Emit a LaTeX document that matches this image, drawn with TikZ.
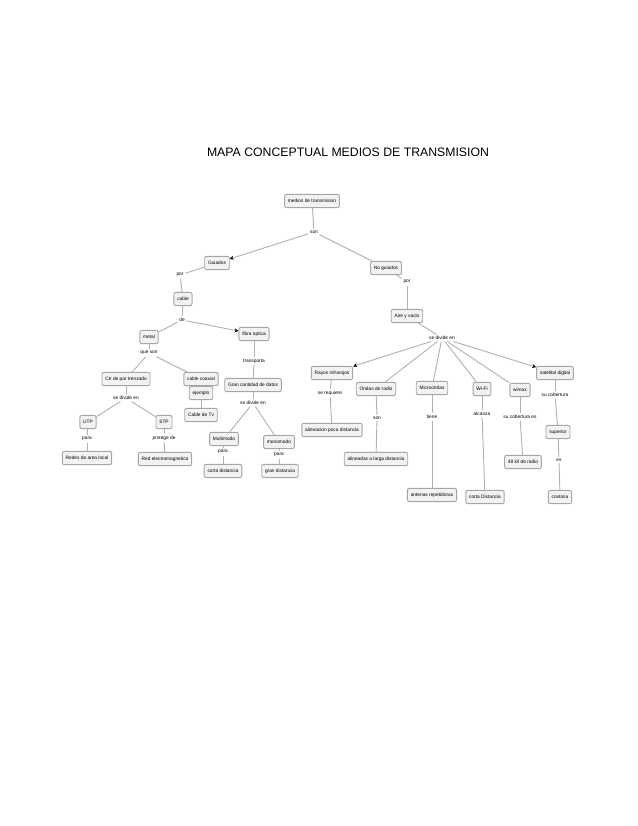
\documentclass[tikz,border=0pt]{standalone}
\usepackage{fontspec}
\setmainfont{Liberation Sans}
\usetikzlibrary{arrows.meta}

\begin{document}
\begin{tikzpicture}[x=0.75pt,y=-0.75pt,
    concept/.style={draw=gray!70, fill=blue!3!gray!10, rounded corners=1.5pt, line width=0.7pt,
      font=\fontsize{3.6}{4}\selectfont, inner xsep=2.5pt, minimum height=10pt},
    link/.style={fill=white, font=\fontsize{3.6}{4}\selectfont, inner sep=1pt},
    every path/.style={draw=gray!60, line width=0.7pt},
    >={Stealth[length=3pt,width=3pt,color=black]}]
    \path[use as bounding box, draw=none] (0,0) rectangle (638,826);
    \node[font=\fontsize{9.2}{11}\selectfont] (title) at (348,152)
    {MAPA CONCEPTUAL MEDIOS DE TRANSMISION};
    % top
    \node[concept] (medios) at (312,201) {medios de transmision};
    \node[link] (son) at (314,232) {son};
    \node[concept] (guiados) at (217,263) {Guiados};
    \node[concept] (noguiados) at (386,268) {No guiados};
    \draw (medios) -- (son); \draw[->] (son) -- (guiados); \draw (son) -- (noguiados);
    % guiados
    \node[link] (porL) at (180,275) {por};
    \node[concept] (cable) at (183,299) {cable};
    \draw (guiados) -- (porL); \draw (porL) -- (cable);
    \node[link] (de) at (182,320) {de};
    \node[concept] (metal) at (149,337) {metal};
    \node[concept] (fibra) at (254,334) {fibra optica};
    \draw (cable) -- (de); \draw (de) -- (metal); \draw[->] (de) -- (fibra);
    \node[link] (queson) at (149,353) {que son};
    \node[concept] (par) at (126,379) {Ctr de par trenzado};
    \node[concept] (coaxial) at (201,379) {cable coaxial};
    \draw (metal) -- (queson); \draw (queson) -- (par); \draw (queson) -- (coaxial);
    \node[concept] (ejemplo) at (201,393) {ejemplo};
    \node[concept] (tv) at (201,415) {Cable de Tv};
    \draw (coaxial) -- (ejemplo); \draw (ejemplo) -- (tv);
    \node[link] (divpar) at (126,398) {se divide en};
    \node[concept] (utp) at (88,422) {UTP};
    \node[concept] (stp) at (164,422) {STP};
    \draw (par) -- (divpar); \draw (divpar) -- (utp); \draw (divpar) -- (stp);
    \node[link] (parautp) at (87,439) {para};
    \node[concept] (redes) at (87,458) {Redes de area local};
    \draw (utp) -- (parautp); \draw (parautp) -- (redes);
    \node[link] (protege) at (164,438) {protege de};
    \node[concept] (red) at (165,459) {Red electromagnetica};
    \draw (stp) -- (protege); \draw (protege) -- (red);
    % fibra
    \node[link] (transporta) at (254,361) {transporta};
    \node[concept] (gran) at (253,385) {Gran cantidad de datos};
    \draw (fibra) -- (transporta); \draw (transporta) -- (gran);
    \node[link] (divfib) at (253,403) {se divide en};
    \node[concept] (multi) at (224,439) {Multimodo};
    \node[concept] (mono) at (279,442) {monomodo};
    \draw (gran) -- (divfib); \draw (divfib) -- (multi); \draw (divfib) -- (mono);
    \node[link] (paramulti) at (223,452) {para};
    \node[concept] (corta) at (223,471) {corta distancia};
    \draw (multi) -- (paramulti); \draw (paramulti) -- (corta);
    \node[link] (paramono) at (279,455) {para};
    \node[concept] (grandist) at (280,471) {gran distancia};
    \draw (mono) -- (paramono); \draw (paramono) -- (grandist);
    % no guiados
    \node[link] (porR) at (407,282) {por};
    \node[concept] (aire) at (407,316) {Aire y vacio};
    \draw (noguiados) -- (porR); \draw (porR) -- (aire);
    \node[link] (divaire) at (442,338) {se divide en};
    \draw (aire) -- (divaire);
    \node[concept] (rayos) at (332,373) {Rayos infrarojos};
    \node[concept] (ondas) at (376,389) {Ondas de radio};
    \node[concept] (micro) at (432,388) {Microondas};
    \node[concept] (wifi) at (482,389) {Wi-Fi};
    \node[concept] (wimax) at (520,390) {wimax};
    \node[concept] (sat) at (555,373) {satelital digital};
    \draw[->] (divaire) -- (rayos); \draw (divaire) -- (ondas); \draw (divaire) -- (micro);
    \draw (divaire) -- (wifi); \draw (divaire) -- (wimax); \draw[->] (divaire) -- (sat);
    \node[link] (requiere) at (330,393) {se requiere};
    \node[concept] (alineacion) at (332,430) {alineacion poca distancia};
    \draw (rayos) -- (requiere); \draw (requiere) -- (alineacion);
    \node[link] (sonondas) at (377,418) {son};
    \node[concept] (alineadas) at (376,459) {alineadas a larga distancia};
    \draw (ondas) -- (sonondas); \draw (sonondas) -- (alineadas);
    \node[link] (tiene) at (432,417) {tiene};
    \node[concept] (antenas) at (432,495) {antenas repetidoras};
    \draw (micro) -- (tiene); \draw (tiene) -- (antenas);
    \node[link] (alcanza) at (482,414) {alcanza};
    \node[concept] (cortaD) at (485,497) {corta Distancia};
    \draw (wifi) -- (alcanza); \draw (alcanza) -- (cortaD);
    \node[link] (cobes) at (520,417) {su cobertura es};
    \node[concept] (radio) at (523,462) {48 k/l de radio};
    \draw (wimax) -- (cobes); \draw (cobes) -- (radio);
    \node[link] (cob) at (555,395) {su cobertura};
    \node[concept] (superior) at (558,432) {superior};
    \draw (sat) -- (cob); \draw (cob) -- (superior);
    \node[link] (es) at (559,460) {es};
    \node[concept] (costosa) at (560,497) {costosa};
    \draw (superior) -- (es); \draw (es) -- (costosa);
\end{tikzpicture}
\end{document}
